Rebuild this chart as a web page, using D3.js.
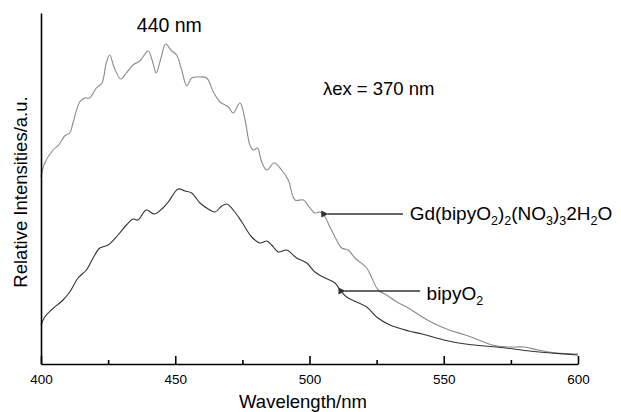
<!DOCTYPE html>
<html>
<head>
<meta charset="utf-8">
<script src="https://cdn.jsdelivr.net/npm/d3@7"></script>
<style>
    body { margin: 0; background: #fff; }
    text { font-family: Arial, "Liberation Sans", sans-serif; fill: #000; }
</style>
</head>
<body>
<div id="chart"></div>
<script>
// emission spectra (wavelength nm, intensity a.u.)
let gdWave = [400, 401.4, 404.5, 406.6, 408.8, 410.7, 411.9, 414.4, 416.3, 418.1, 420.6, 422.7, 424.3, 425.6, 427.2, 429.7,
    431.8, 434.3, 436.8, 439.9, 441.7, 442.9, 444.8, 446.4, 448.7, 450.5, 452.4, 454.3, 456.1, 458.6, 461.7, 464.2,
    466.7, 469.8, 471.6, 474.1, 476, 477.8, 479.1, 480.6, 482.2, 484.1, 486.8, 489.6, 492.1, 494.6, 497.7, 500.2,
    502, 503.9, 505.8, 507.6, 509.5, 512, 514.4, 516.9, 521.3, 523.2, 525.6, 528.7, 532.5, 536.2, 538, 542,
    546, 552, 558, 563, 568, 574, 580, 585, 592, 600];
let gdValue = [1870, 2010, 2140, 2190, 2280, 2310, 2410, 2620, 2660, 2660, 2760, 2810, 3010, 3090, 2970, 2850,
    2910, 2990, 3030, 3130, 3010, 2910, 3070, 3200, 3130, 3090, 2940, 2780, 2860, 2870, 2860, 2720,
    2620, 2570, 2510, 2610, 2440, 2190, 2140, 2160, 2020, 1940, 2010, 1940, 1840, 1640, 1640, 1560,
    1510, 1520, 1470, 1370, 1270, 1160, 1140, 1060, 960, 860, 740, 690, 620, 570, 540, 470,
    410, 340, 290, 240, 190, 170, 170, 140, 110, 100];

let bpWave = [400, 401.4, 403.8, 408.2, 410.7, 413.8, 416.9, 419.4, 421.9, 425, 428.7, 431.8, 434.3, 436.1, 439.2, 442.3,
    445.4, 447.4, 451.1, 453.6, 456.1, 459.2, 462.3, 464.8, 467.3, 469.2, 471.6, 474.8, 478.5, 481.6, 484.1, 485.9,
    488.4, 491.5, 495.2, 499, 502, 505.8, 509.5, 511.4, 513.8, 517.6, 521.3, 525, 530, 537, 542, 550,
    558, 565, 573, 582, 590, 600];
let bpValue = [390, 470, 540, 640, 720, 860, 940, 1060, 1160, 1190, 1290, 1390, 1450, 1440, 1540, 1500,
    1560, 1620, 1750, 1730, 1710, 1610, 1550, 1520, 1580, 1600, 1540, 1420, 1270, 1210, 1230, 1190,
    1120, 1140, 1060, 1010, 920, 860, 810, 740, 670, 620, 570, 470, 390, 330, 300, 240,
    200, 180, 160, 130, 110, 90];

let majorTicks = [400, 450, 500, 550, 600];
let minorTicks = [425, 475, 525, 575];

let width = 621, height = 412;
let margin = {top: 13, right: 43, bottom: 48, left: 41};

let svg = d3.select("#chart")
    .append("svg")
    .attr("width", width)
    .attr("height", height);

let xScale = d3.scaleLinear()
    .domain([400, 600])
    .range([margin.left, width - margin.right]);

let yScale = d3.scaleLinear()
    .domain([0, 3510])
    .range([height - margin.bottom, margin.top]);

let line = d3.line()
    .x(d => xScale(d[0]))
    .y(d => yScale(d[1]))
    .curve(d3.curveCatmullRom.alpha(0.5));

svg.append("path")
    .datum(d3.zip(gdWave, gdValue))
    .attr("d", line)
    .attr("fill", "none")
    .attr("stroke", "#8a8a8a")
    .attr("stroke-width", 1.1);

svg.append("path")
    .datum(d3.zip(bpWave, bpValue))
    .attr("d", line)
    .attr("fill", "none")
    .attr("stroke", "#333")
    .attr("stroke-width", 1.1);

// axes, ticks point inwards
let xAxis = d3.axisBottom(xScale)
    .tickValues(majorTicks)
    .tickSizeInner(-8)
    .tickSizeOuter(0)
    .tickPadding(10)
    .tickFormat(d3.format("d"));

let gx = svg.append("g")
    .attr("transform", "translate(0," + (height - margin.bottom) + ")")
    .call(xAxis);
gx.selectAll("text")
    .style("font-size", "13.5px")
    .style("font-family", "Arial, 'Liberation Sans', sans-serif");

svg.append("g")
    .attr("transform", "translate(0," + (height - margin.bottom) + ")")
    .call(d3.axisBottom(xScale).tickValues(minorTicks).tickSizeInner(-4).tickSizeOuter(0).tickFormat(""))
    .call(g => g.selectAll("text").remove())
    .select(".domain").remove();

svg.append("g")
    .attr("transform", "translate(" + margin.left + ",0)")
    .call(d3.axisLeft(yScale).tickValues([]).tickSizeOuter(0));

svg.selectAll(".domain, .tick line")
    .attr("stroke", "#000")
    .attr("stroke-width", 1.6);

// axis titles
svg.append("text")
    .text("Wavelength/nm")
    .attr("x", 303)
    .attr("y", 408)
    .attr("text-anchor", "middle")
    .style("font-size", "18.5px");

svg.append("text")
    .text("Relative Intensities/a.u.")
    .attr("transform", "translate(27,192) rotate(-90)")
    .attr("text-anchor", "middle")
    .style("font-size", "18.5px");

// annotations
svg.append("text")
    .text("440 nm")
    .attr("x", xScale(447.8))
    .attr("y", 32)
    .attr("text-anchor", "middle")
    .style("font-size", "19.5px");

svg.append("text")
    .text("\u03bbex = 370 nm")
    .attr("x", xScale(505))
    .attr("y", 95)
    .style("font-size", "18.5px");

svg.append("defs")
    .append("marker")
    .attr("id", "head")
    .attr("viewBox", "0 0 10 10")
    .attr("refX", 1)
    .attr("refY", 5)
    .attr("markerWidth", 4.5)
    .attr("markerHeight", 4.5)
    .attr("orient", "auto-start-reverse")
    .append("path")
    .attr("d", "M0,5L10,0L10,10Z")
    .attr("fill", "#333");

function arrow(tip, tail, val) {
    svg.append("line")
        .attr("x1", xScale(tip))
        .attr("x2", xScale(tail))
        .attr("y1", yScale(val))
        .attr("y2", yScale(val))
        .attr("stroke", "#333")
        .attr("stroke-width", 1.6)
        .attr("marker-start", "url(#head)");
}

// parts: [text, isSubscript]; the shift back up goes on the next tspan
function label(parts, x, y) {
    let t = svg.append("text")
        .attr("x", x)
        .attr("y", y)
        .style("font-size", "19px");
    let shift = 0;
    parts.forEach(p => {
        let sp = t.append("tspan").text(p[0]);
        if (p[1]) {
            sp.attr("dy", 5).style("font-size", "12.5px");
            shift = -5;
        } else {
            sp.attr("dy", shift);
            shift = 0;
        }
    });
}

arrow(506.8, 534.8, 1500);
arrow(513.2, 541.2, 730);

label([["Gd(bipyO"], ["2", true], [")"], ["2", true], ["(NO"], ["3", true],
    [")"], ["3", true], ["2H"], ["2", true], ["O"]], xScale(537.3), 220);
label([["bipyO"], ["2", true]], xScale(543.6), 300);
</script>
</body>
</html>
